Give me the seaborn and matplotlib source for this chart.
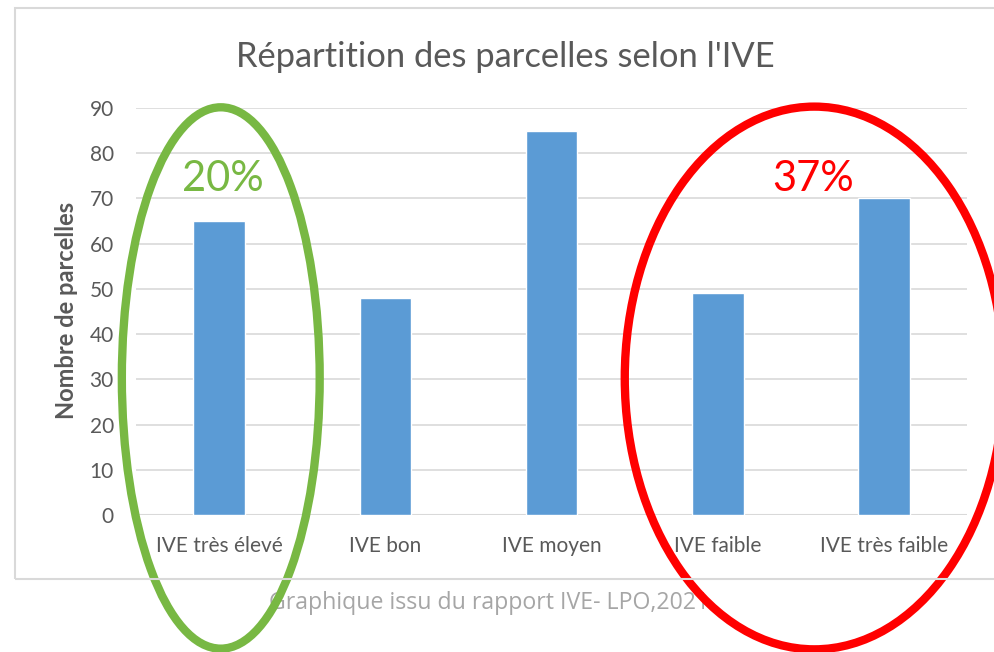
import numpy as np
import pandas as pd
import seaborn as sns
from matplotlib import pyplot as plt
from matplotlib.patches import Ellipse, Rectangle

# Data
categories = ["IVE très élevé", "IVE bon", "IVE moyen", "IVE faible", "IVE très faible"]
parcelles = [65, 48, 85, 49, 70]
yticks = [0, 10, 20, 30, 40, 50, 60, 70, 80, 90]

title = "Répartition des parcelles selon l'IVE"
ylabel = "Nombre de parcelles"
caption = "Graphique issu du rapport IVE- LPO,2021"
green_pct = "20%"
red_pct = "37%"

df = pd.DataFrame({"categorie": categories, "parcelles": parcelles})

sns.set_style("white")
plt.rcParams["font.family"] = ["Lato", "DejaVu Sans"]

grey = "#595959"
light = "#d9d9d9"
blue = "#5b9bd5"
green = "#78b843"
red = "#ff0000"

fig = plt.figure(figsize=(9.94, 6.52), dpi=100)
ax = fig.add_axes([0.1368, 0.2101, 0.8363, 0.6243])

sns.barplot(data=df, x="categorie", y="parcelles", color=blue, width=0.31,
            saturation=1, ax=ax, zorder=3)

ax.set_ylim(0, 90)
ax.set_xlim(-0.5, len(categories) - 0.5)
ax.set_yticks(yticks)
ax.yaxis.grid(True, color=light, linewidth=1.2, zorder=0)
ax.xaxis.grid(False)
for s in ax.spines.values():
    s.set_visible(False)
ax.axhline(0, color=light, linewidth=1.5, zorder=2)
ax.tick_params(axis="both", length=0, colors=grey)
ax.tick_params(axis="y", labelsize=15, pad=16)
ax.tick_params(axis="x", labelsize=15, pad=15)
ax.set_xlabel("")
ax.set_ylabel("")

fig.text(67 / 994, 1 - 310 / 652, ylabel, rotation=90, ha="center", va="center",
         fontsize=17, fontweight="bold", color=grey)
fig.text(0.508, 0.912, title, ha="center", va="center", fontsize=24.8, color=grey)
fig.text(0.492, 0.075, caption, ha="center", va="center", fontsize=16.7,
         color="#a6a6a6", family=["Open Sans", "DejaVu Sans"], zorder=-1)

# chart frame
fig.patches.append(Rectangle((0.0151, 0.112), 1.0, 0.8757, transform=fig.transFigure,
                             fill=False, edgecolor=light, linewidth=1.5))

# annotation ellipses (data coords, category positions)
ax.add_patch(Ellipse((0.01, 30.3), 1.19, 119.7, fill=False, edgecolor=green,
                     linewidth=6, clip_on=False, zorder=5))
ax.add_patch(Ellipse((3.58, 30.3), 2.28, 120.0, fill=False, edgecolor=red,
                     linewidth=6, clip_on=False, zorder=5))
ax.text(0.02, 74.4, green_pct, ha="center", va="center", fontsize=30, color=green)
ax.text(3.57, 74.4, red_pct, ha="center", va="center", fontsize=30, color=red)

fig.savefig("out.png", dpi=100)
